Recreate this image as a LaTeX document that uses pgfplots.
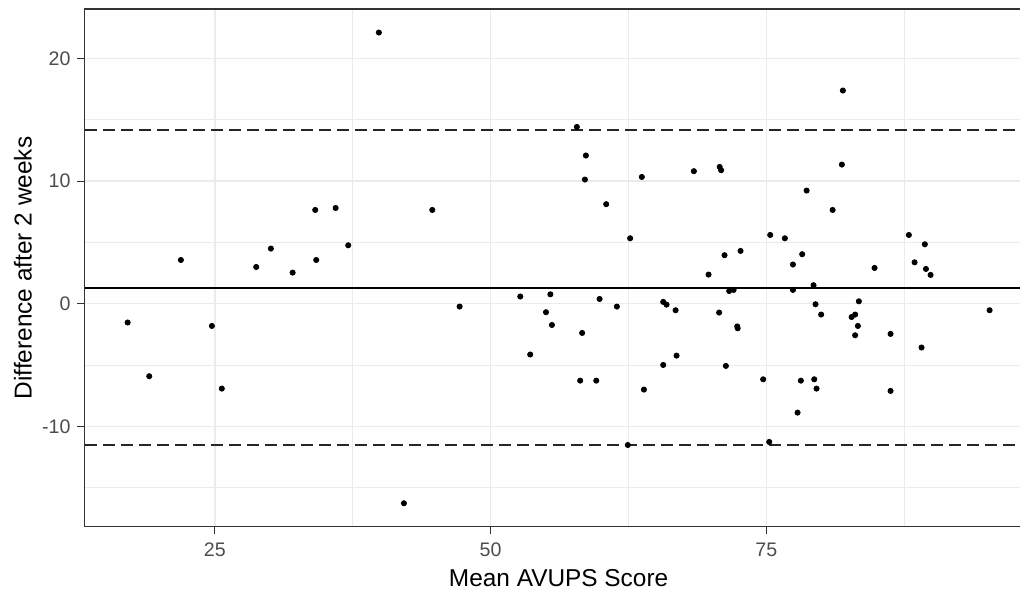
\documentclass[border=0pt]{standalone}
\usepackage{pgfplots}
\pgfplotsset{compat=1.18}
\usepackage{fontspec}
\setmainfont{Liberation Sans}
\definecolor{gridgrey}{HTML}{EBEBEB}
\definecolor{tickgrey}{HTML}{4D4D4D}
\definecolor{framegrey}{HTML}{333333}
\begin{document}
\begin{tikzpicture}
\begin{axis}[
  scale only axis,
  width=474.1pt, height=258.9pt,
  xmin=13.18, xmax=99.15, ymin=-18.19, ymax=24.04,
  xtick={25,50,75}, xticklabels={25,50,75},
  ytick={-10,0,10,20}, yticklabels={-10,0,10,20},
  minor xtick={37.5,62.5,87.5}, minor ytick={-15,-5,5,15},
  grid=both,
  major grid style={draw=gridgrey, line width=0.7pt},
  minor grid style={draw=gridgrey, line width=0.4pt},
  tick align=outside, tick pos=left,
  major tick length=3.5pt, minor tick length=0pt,
  tick style={draw=framegrey, line width=0.6pt},
  axis line style={draw=framegrey, line width=0.6pt},
  ticklabel style={font=\fontsize{9.8}{11}\selectfont, text=tickgrey},
  xticklabel style={yshift=-1pt},
  clip=true,
]
\addplot[only marks, mark=*, mark size=1.3pt, black] table {
x y
17.09 -1.53
19.05 -5.91
21.92 3.57
24.73 -1.81
25.63 -6.92
28.75 3.00
30.08 4.50
32.05 2.54
34.10 7.65
34.19 3.57
35.95 7.81
37.09 4.77
39.87 22.12
42.14 -16.27
44.71 7.65
47.19 -0.23
52.69 0.59
53.59 -4.14
55.02 -0.69
55.42 0.77
55.56 -1.73
57.82 14.42
58.12 -6.27
58.30 -2.38
58.55 10.13
58.64 12.09
59.58 -6.27
59.88 0.39
60.48 8.12
61.45 -0.23
62.44 -11.52
62.65 5.34
63.71 10.34
63.90 -7.00
65.65 0.15
65.65 -4.99
65.95 -0.07
66.77 -0.53
66.86 -4.23
68.43 10.81
69.76 2.38
70.72 -0.72
70.77 11.16
70.90 10.89
71.21 3.96
71.33 -5.07
71.63 1.04
72.03 1.13
72.36 -1.85
72.40 -2.00
72.66 4.31
74.71 -6.16
75.26 -11.27
75.35 5.61
76.68 5.34
77.41 3.20
77.41 1.13
77.83 -8.88
78.13 -6.27
78.25 4.04
78.65 9.23
79.28 1.51
79.34 -6.16
79.46 -0.04
79.55 -6.92
79.97 -0.88
81.01 7.65
81.85 11.35
81.94 17.39
82.73 -1.08
83.05 -0.88
83.05 -2.57
83.30 -1.81
83.39 0.20
84.81 2.92
86.26 -2.46
86.26 -7.11
87.92 5.61
88.44 3.38
89.07 -3.57
89.37 4.85
89.47 2.84
89.89 2.35
95.24 -0.53
};
\addplot[black, line width=1pt] coordinates {(13.18,1.29) (99.15,1.29)};
\addplot[black!85, line width=1pt, dash pattern=on 6pt off 3pt] coordinates {(13.18,14.21) (99.15,14.21)};
\addplot[black!85, line width=1pt, dash pattern=on 6pt off 3pt] coordinates {(13.18,-11.54) (99.15,-11.54)};
\end{axis}
\node[font=\fontsize{12.2}{14}\selectfont, anchor=center] at ([yshift=-25.9pt]current axis.south) {Mean AVUPS Score};
\node[font=\fontsize{12.2}{14}\selectfont, rotate=90, anchor=center] at ([xshift=-30.75pt]current axis.west) {Difference after 2 weeks};
\pgfresetboundingbox
\useasboundingbox ([shift={(-42.25pt,-32.15pt)}]current axis.south west) rectangle ([shift={(467.75pt,4.5pt)}]current axis.north west);
\end{tikzpicture}
\end{document}
